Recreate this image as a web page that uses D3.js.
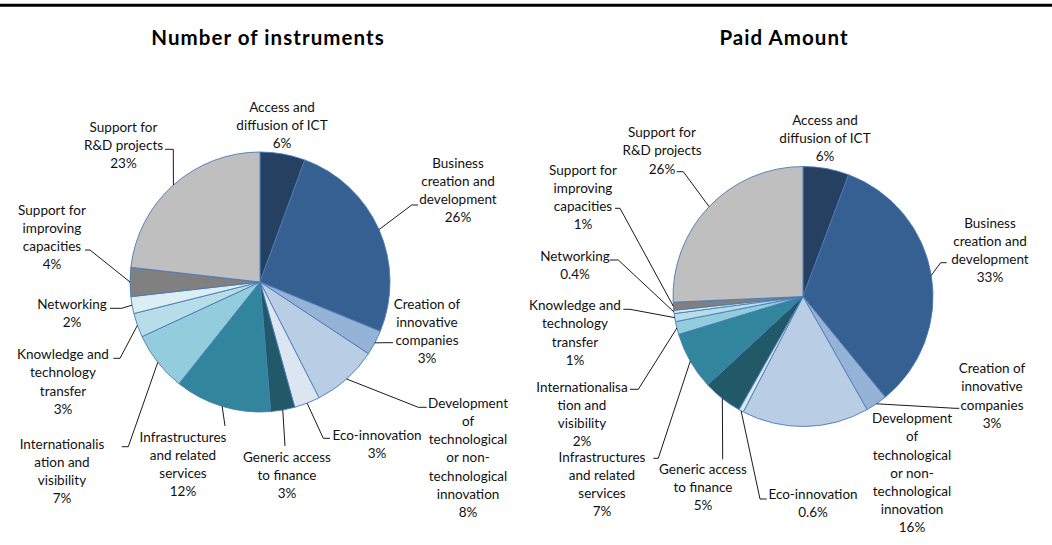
<!DOCTYPE html>
<html>
<head>
<meta charset="utf-8">
<script src="https://cdn.jsdelivr.net/npm/d3@7"></script>
<style>
	body { margin: 0; background: #fff; }
	svg { display: block; }
	text { font-family: Lato, "Open Sans", sans-serif; fill: #111; }
</style>
</head>
<body>
<svg id="svg1" width="1052" height="545"></svg>
<script>
// categories, clockwise from 12 o'clock
categories = [
	"Access and diffusion of ICT",
	"Business creation and development",
	"Creation of innovative companies",
	"Development of technological or non-technological innovation",
	"Eco-innovation",
	"Generic access to finance",
	"Infrastructures and related services",
	"Internationalisation and visibility",
	"Knowledge and technology transfer",
	"Networking",
	"Support for improving capacities",
	"Support for R&D projects"
];

// share in %
instruments_values = [5.6, 25.6, 3.1, 8.2, 3.2, 3.0, 12.0, 7.4, 3.0, 2.1, 3.6, 23.2];
paid_values = [5.7, 33.4, 2.7, 15.8, 0.6, 4.9, 7.2, 1.6, 1.0, 0.4, 1.0, 25.7];

colors = ["#254061", "#366092", "#95B3D7", "#B9CDE5", "#DCE6F2", "#215968",
	"#31859C", "#93CDDD", "#B7DEE8", "#DAEEF3", "#808080", "#BFBFBF"];

// wrapped label text as printed on each chart
instruments_label_lines = [
	["Access and", "diffusion of ICT"],
	["Business", "creation and", "development"],
	["Creation of", "innovative", "companies"],
	["Development", "of", "technological", "or non-", "technological", "innovation"],
	["Eco-innovation"],
	["Generic access", "to finance"],
	["Infrastructures", "and related", "services"],
	["Internationalis", "ation and", "visibility"],
	["Knowledge and", "technology", "transfer"],
	["Networking"],
	["Support for", "improving", "capacities"],
	["Support for", "R&D projects"]
];
paid_label_lines = instruments_label_lines.slice();
paid_label_lines[7] = ["Internationalisa", "tion and", "visibility"];

// label placement: [text x, first line y, [elbow x, elbow y, end x, end y]] (null = no leader)
instruments_layout = [
	[282, 107, null],
	[458, 163, [411.7, 205, 418, 205]],
	[427, 304, [387, 342.7, 393, 342.7]],
	[468, 403, [418.3, 407.3, 426.7, 407.3]],
	[377, 435, [323.3, 438.3, 330, 438.3]],
	[287, 457, [285, 446, 285, 446]],
	[183, 437, [225, 426, 225, 426]],
	[62, 444, [128.3, 446.7, 121.7, 446.7]],
	[63, 354.5, [120, 358.3, 113.3, 358.3]],
	[72, 304.5, [121.7, 308.3, 110, 308.3]],
	[52, 210, [90, 250, 85, 250]],
	[123.5, 127, [173.3, 149.3, 165, 149.3]]
];
paid_layout = [
	[825, 120, null],
	[990, 223, [940.7, 262.7, 946.7, 262.7]],
	[992, 368.5, [955, 408.3, 959.3, 408.3]],
	[912, 418.5, null],
	[813, 494.5, [760, 499, 766.7, 499]],
	[703, 469, [722.7, 459.3, 722.7, 459.3]],
	[602, 457, [658.3, 458.3, 653.3, 458.3]],
	[582, 387, [638.3, 389.3, 630, 389.3]],
	[575, 305.5, [630, 309.3, 623.3, 309.3]],
	[575, 256, [618.3, 260, 610, 260]],
	[583, 170, [620, 208.3, 615, 208.3]],
	[662, 132.5, [683.3, 171.7, 676.7, 171.7]]
];

settings = {
	radius: 130,
	lineHeight: 18.2,
	fontSize: 13.5
}

function fmt_pct(v) {
	return (v < 1 ? d3.format(".1f")(v) : d3.format(".0f")(v)) + "%";
}

function draw_pie(svg, title, title_x, cx, cy, values, label_lines, layout) {
	console.log("draw_pie:" + title)

	svg.append("text")
		.attr("x", title_x)
		.attr("y", 44.5)
		.attr("text-anchor", "middle")
		.style("font-size", "20.5px")
		.style("font-weight", "bold")
		.style("letter-spacing", "1.05px")
		.style("fill", "#000")
		.text(title);

	var pie = d3.pie().sort(null).value(d => d)
	var arcs = pie(values)
	var arc = d3.arc().innerRadius(0).outerRadius(settings.radius)

	var g = svg.append("g").attr("transform", "translate(" + cx + "," + cy + ")")

	g.selectAll("path")
		.data(arcs)
		.enter().append("path")
		.attr("d", arc)
		.attr("fill", (d, i) => colors[i])
		.attr("stroke", "#4A7AB5")
		.attr("stroke-width", 0.9)
		.attr("stroke-linejoin", "round");

	// leader lines: arc edge at mid angle -> elbow -> label
	arcs.forEach(function(d, i) {
		var lay = layout[i];
		if (!lay[2]) return;
		var mid = (d.startAngle + d.endAngle) / 2;
		var px = cx + settings.radius * Math.sin(mid);
		var py = cy - settings.radius * Math.cos(mid);
		var l = lay[2];
		svg.append("path")
			.attr("d", d3.line()([[px, py], [l[0], l[1]], [l[2], l[3]]]))
			.attr("fill", "none")
			.attr("stroke", "#000")
			.attr("stroke-width", 0.9);
	});

	// labels
	arcs.forEach(function(d, i) {
		var lay = layout[i];
		var lines = label_lines[i].concat([fmt_pct(values[i])]);
		var t = svg.append("text")
			.attr("text-anchor", "middle")
			.style("font-size", settings.fontSize + "px");
		lines.forEach(function(s, j) {
			t.append("tspan")
				.attr("x", lay[0])
				.attr("y", lay[1] + j * settings.lineHeight)
				.attr("dy", "0.35em")
				.text(s);
		});
	});
}

svg = d3.select("#svg1")

// rule across the top
svg.append("line")
	.attr("x1", 0).attr("x2", 1052)
	.attr("y1", 5.3).attr("y2", 5.3)
	.attr("stroke", "#000")
	.attr("stroke-width", 3);

draw_pie(svg, "Number of instruments", 268, 260, 282, instruments_values, instruments_label_lines, instruments_layout);
draw_pie(svg, "Paid Amount", 784, 803, 296.5, paid_values, paid_label_lines, paid_layout);
</script>
</body>
</html>
